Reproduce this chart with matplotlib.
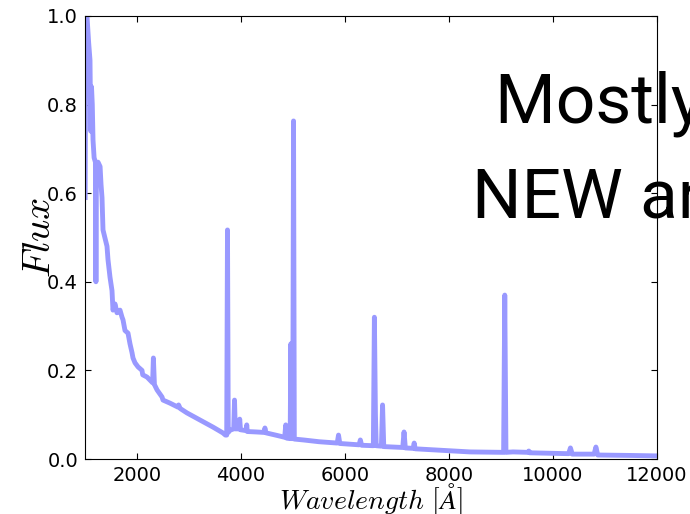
import matplotlib
matplotlib.use("Agg")
import matplotlib.pyplot as plt

# spectrum (wavelength in Angstrom, normalised flux)
wave = [1003, 1015, 1038, 1070, 1096, 1110, 1125, 1140, 1154, 1175,
        1200, 1210, 1220, 1250, 1290, 1308, 1327, 1346, 1423, 1442,
        1481, 1519, 1538, 1577, 1615, 1673, 1712, 1731, 1769, 1827,
        1865, 1904, 1923, 1962, 2019, 2096, 2110, 2192, 2300, 2315,
        2335, 2385, 2481, 2500, 2635, 2788, 2800, 2830, 2961, 3211,
        3461, 3650, 3700, 3725, 3740, 3755, 3790, 3860, 3875, 3890,
        3960, 3975, 3990, 4100, 4110, 4120, 4300, 4440, 4460, 4480,
        4700, 4840, 4860, 4880, 4945, 4959, 4975, 4995, 5010, 5025,
        5200, 5500, 5850, 5875, 5900, 6270, 6295, 6320, 6545, 6565,
        6585, 6600, 6700, 6722, 6745, 7110, 7135, 7160, 7310, 7330,
        7350, 7800, 8400, 9050, 9072, 9095, 9230, 9520, 9535, 9550,
        10300, 10335, 10370, 10790, 10825, 10860, 11500, 12000]
flux = [0.59, 1.02, 1.0, 0.94, 0.90, 0.74, 0.84, 0.80, 0.72, 0.68,
        0.67, 0.40, 0.66, 0.67, 0.66, 0.62, 0.59, 0.517, 0.48, 0.45,
        0.41, 0.38, 0.336, 0.35, 0.33, 0.336, 0.32, 0.314, 0.29, 0.284,
        0.26, 0.24, 0.228, 0.217, 0.208, 0.20, 0.19, 0.185, 0.172, 0.228,
        0.168, 0.156, 0.14, 0.133, 0.126, 0.117, 0.122, 0.114, 0.104, 0.088,
        0.072, 0.059, 0.054, 0.054, 0.517, 0.06, 0.065, 0.068, 0.133, 0.068,
        0.068, 0.09, 0.066, 0.064, 0.077, 0.062, 0.061, 0.06, 0.07, 0.059,
        0.053, 0.049, 0.077, 0.047, 0.046, 0.26, 0.046, 0.046, 0.763, 0.045,
        0.043, 0.039, 0.036, 0.054, 0.035, 0.032, 0.043, 0.031, 0.03, 0.32,
        0.10, 0.03, 0.029, 0.122, 0.028, 0.026, 0.061, 0.025, 0.024, 0.036,
        0.023, 0.02, 0.016, 0.015, 0.37, 0.015, 0.016, 0.015, 0.018, 0.014,
        0.012, 0.025, 0.011, 0.011, 0.027, 0.009, 0.008, 0.007]

title_lines = ["Mostly Old", "NEW and Improved"]

plt.rcParams['mathtext.fontset'] = 'cm'
plt.rcParams['xtick.direction'] = 'in'
plt.rcParams['ytick.direction'] = 'in'
plt.rcParams['xtick.top'] = True
plt.rcParams['ytick.right'] = True
plt.rcParams['xtick.major.size'] = 4
plt.rcParams['ytick.major.size'] = 4

fig = plt.figure(figsize=(6.9, 5.14), dpi=100)
ax = fig.add_axes([0.1232, 0.107, 0.8290, 0.862])

ax.plot(wave, flux, color='#9999ff', lw=3.5)

ax.set_xlim(1000, 12000)
ax.set_ylim(0, 1)
ax.set_xticks([2000, 4000, 6000, 8000, 10000, 12000])
ax.set_yticks([0.0, 0.2, 0.4, 0.6, 0.8, 1.0])
ax.tick_params(labelsize=14, pad=5)
ax.set_xlabel(r'$Wavelength\ [\AA]$', fontsize=20, labelpad=-3)
ax.set_ylabel(r'$Flux$', fontsize=28, labelpad=-8)

# no condensed face is installed, Roboto is the narrowest fit
fig.text(0.717, 0.761, title_lines[0], fontsize=50, family='Roboto',
         va='baseline', ha='left')
fig.text(0.684, 0.576, title_lines[1], fontsize=50, family='Roboto',
         va='baseline', ha='left')

fig.savefig('out.png', dpi=100)
